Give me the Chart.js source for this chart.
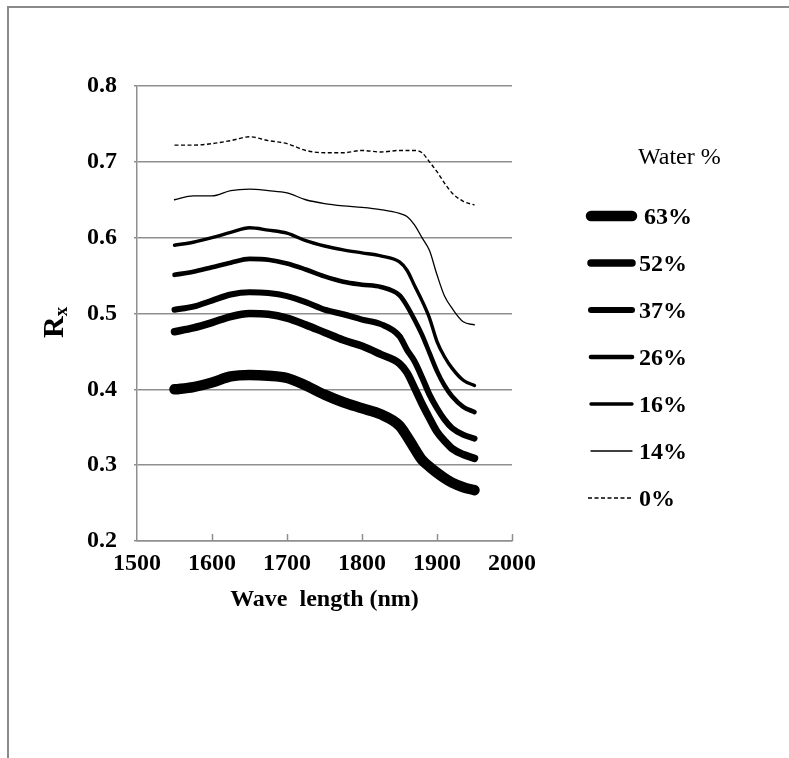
<!DOCTYPE html>
<html>
<head>
<meta charset="utf-8">
<script src="https://cdn.jsdelivr.net/npm/chart.js@4.4.1/dist/chart.umd.min.js"></script>
<style>
  body { margin:0; background:#ffffff; }
  #wrap { position:relative; width:789px; height:758px; }
  #frame { position:absolute; left:7px; top:6px; right:0; bottom:0; border-top:2px solid #8a8a8a; border-left:2px solid #8a8a8a; }
  #cv { position:absolute; left:0; top:0; }
</style>
</head>
<body>
<div id="wrap">
  <div id="frame"></div>
  <canvas id="cv" width="789" height="758"></canvas>
</div>
<script>
// wavelength (nm) shared by all curves
var wavelength = [1550,1575,1600,1625,1650,1675,1700,1725,1750,1775,1800,1825,1850,1860,1870,1880,1890,1900,1910,1920,1935,1950];

// reflectance Rx per water content
var water63 = [0.400,0.403,0.409,0.417,0.419,0.418,0.415,0.405,0.393,0.383,0.375,0.367,0.352,0.338,0.322,0.307,0.298,0.290,0.283,0.277,0.271,0.267];
var water52 = [0.476,0.481,0.488,0.496,0.500,0.499,0.494,0.485,0.475,0.465,0.457,0.446,0.434,0.422,0.402,0.381,0.362,0.344,0.332,0.322,0.314,0.309];
var water37 = [0.505,0.509,0.517,0.525,0.528,0.527,0.523,0.515,0.505,0.499,0.492,0.486,0.470,0.452,0.437,0.416,0.393,0.375,0.360,0.349,0.340,0.335];
var water26 = [0.551,0.555,0.561,0.567,0.572,0.571,0.566,0.558,0.549,0.542,0.538,0.535,0.524,0.510,0.492,0.472,0.448,0.424,0.405,0.391,0.377,0.370];
var water16 = [0.590,0.594,0.600,0.607,0.613,0.610,0.606,0.596,0.589,0.584,0.580,0.576,0.568,0.557,0.537,0.517,0.494,0.463,0.443,0.428,0.412,0.405];
var water14 = [0.650,0.655,0.655,0.662,0.664,0.662,0.659,0.650,0.645,0.642,0.640,0.637,0.632,0.628,0.617,0.600,0.583,0.551,0.523,0.507,0.489,0.485];
var water0  = [0.722,0.722,0.724,0.728,0.733,0.728,0.724,0.715,0.712,0.712,0.715,0.713,0.715,0.715,0.715,0.712,0.700,0.687,0.672,0.659,0.648,0.643];

var waterLabels = ["63%","52%","37%","26%","16%","14%","0%"];
var waterSeries = [water63, water52, water37, water26, water16, water14, water0];

// axis ticks
var xTicks = [1500,1600,1700,1800,1900,2000];
var yTicks = [0.2,0.3,0.4,0.5,0.6,0.7,0.8];

// line styles
var lineWidths = [10.5, 7.5, 6, 4.6, 3.4, 1.3, 1.4];
var lineDashes = [[],[],[],[],[],[],[4,2.5]];

var gridColor = "#8f8f8f";
var serif = "'Liberation Serif', 'Times New Roman', serif";

function makePoints(values){
  var pts = [];
  for (var i=0; i<wavelength.length; i++){
    pts.push({x: wavelength[i], y: values[i]});
  }
  return pts;
}

var datasets = [];
for (var k=0; k<waterSeries.length; k++){
  datasets.push({
    label: waterLabels[k],
    data: makePoints(waterSeries[k]),
    borderColor: "#000000",
    backgroundColor: "#000000",
    borderWidth: lineWidths[k],
    borderDash: lineDashes[k],
    borderCapStyle: k==6 ? "butt" : "round",
    borderJoinStyle: "round",
    cubicInterpolationMode: "monotone",
    pointRadius: 0,
    fill: false
  });
}

// legend on the right, drawn by hand
var sideLegend = {
  id: "sideLegend",
  afterDraw: function(chart){
    var ctx = chart.ctx;
    ctx.save();
    ctx.fillStyle = "#000";
    ctx.font = "24px " + serif;
    ctx.textBaseline = "middle";
    ctx.textAlign = "left";
    ctx.fillText("Water %", 638, 158);

    var ds = chart.data.datasets;
    for (var i=0; i<ds.length; i++){
      var y = 216 + i*47;
      ctx.beginPath();
      ctx.lineWidth = ds[i].borderWidth;
      ctx.lineCap = ds[i].borderCapStyle;
      ctx.setLineDash(ds[i].borderDash);
      ctx.strokeStyle = "#000";
      ctx.moveTo(i==6 ? 588 : 591, y);
      ctx.lineTo(632, y);
      ctx.stroke();
      ctx.setLineDash([]);
      ctx.font = "bold 24px " + serif;
      ctx.fillText(ds[i].label, i==0 ? 644 : 639, y + 2);
    }
    ctx.restore();
  }
};

// y title "Rx" with subscript, and inward x tick marks
var axisExtras = {
  id: "axisExtras",
  afterDraw: function(chart){
    var ctx = chart.ctx;
    var xs = chart.scales.x;
    var area = chart.chartArea;
    ctx.save();
    ctx.strokeStyle = gridColor;
    ctx.lineWidth = 1.5;
    for (var i=1; i<xTicks.length; i++){
      var px = Math.round(xs.getPixelForValue(xTicks[i])) + 0.5;
      ctx.beginPath();
      ctx.moveTo(px, area.bottom);
      ctx.lineTo(px, area.bottom - 7);
      ctx.stroke();
    }

    ctx.translate(63, 338);
    ctx.rotate(-Math.PI/2);
    ctx.fillStyle = "#000";
    ctx.textBaseline = "alphabetic";
    ctx.textAlign = "left";
    ctx.font = "bold 30px " + serif;
    ctx.fillText("R", 0, 0);
    var w = ctx.measureText("R").width;
    ctx.font = "bold 19px " + serif;
    ctx.fillText("x", w, 4);
    ctx.restore();
  }
};

var config = {
  type: "line",
  data: { datasets: datasets },
  options: {
    responsive: false,
    animation: false,
    layout: { padding: { left: 0, top: 86, right: 277, bottom: 0 } },
    plugins: {
      legend: { display: false },
      tooltip: { enabled: false }
    },
    scales: {
      x: {
        type: "linear",
        min: 1500,
        max: 2000,
        afterFit: function(scale){ scale.height = 217; },
        afterBuildTicks: function(scale){
          scale.ticks = xTicks.map(function(v){ return {value: v}; });
        },
        grid: { display: false, drawTicks: false },
        border: { display: true, color: gridColor, width: 1.5 },
        ticks: {
          color: "#000",
          padding: 8,
          maxRotation: 0,
          font: { family: serif, size: 24, weight: "bold" },
          callback: function(v){ return String(v); }
        },
        title: {
          display: true,
          text: "Wave  length (nm)",
          color: "#000",
          font: { family: serif, size: 24, weight: "bold" },
          padding: { top: 0, bottom: 144 }
        }
      },
      y: {
        type: "linear",
        min: 0.2,
        max: 0.8,
        afterFit: function(scale){ scale.width = 137; },
        afterBuildTicks: function(scale){
          scale.ticks = yTicks.map(function(v){ return {value: v}; });
        },
        grid: { color: gridColor, lineWidth: 1.5, drawTicks: true, tickLength: 3 },
        border: { display: true, color: gridColor, width: 1.5 },
        ticks: {
          color: "#000",
          padding: 17,
          font: { family: serif, size: 24, weight: "bold" },
          callback: function(v){ return Number(v).toFixed(1); }
        }
      }
    }
  },
  plugins: [sideLegend, axisExtras]
};

function load(){
  new Chart(document.getElementById("cv").getContext("2d"), config);
}

document.addEventListener("DOMContentLoaded", load, false);
</script>
</body>
</html>
